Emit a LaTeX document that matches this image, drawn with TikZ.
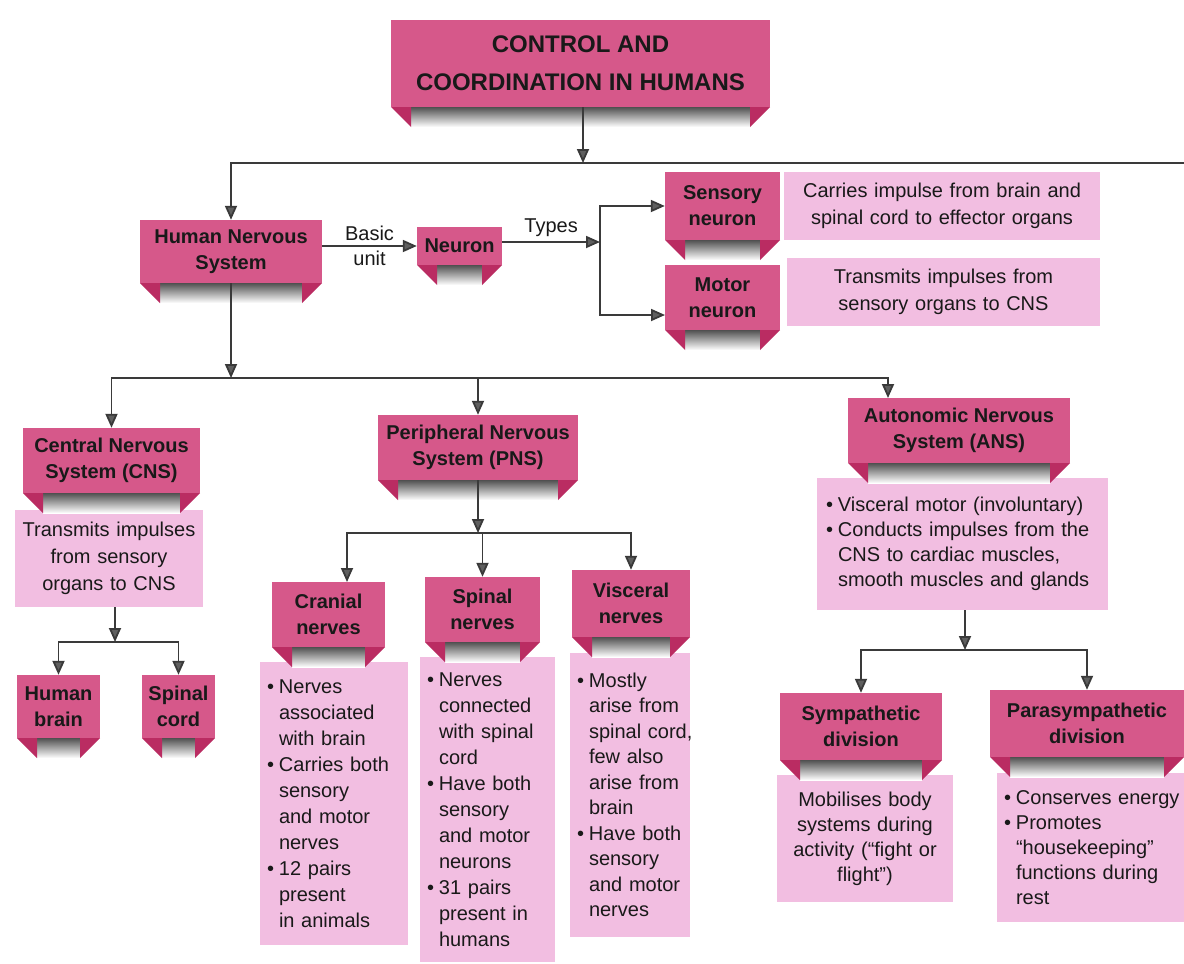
\documentclass[tikz,border=0pt]{standalone}
\usepackage{fontspec}
\setmainfont{Liberation Sans}
\usetikzlibrary{arrows.meta}
\definecolor{boxpink}{RGB}{214,88,138}
\definecolor{tabpink}{RGB}{186,44,98}
\definecolor{descpink}{RGB}{242,190,225}
\definecolor{stripdark}{RGB}{80,80,80}
\definecolor{linegray}{RGB}{58,58,58}
\definecolor{headgray}{RGB}{95,95,95}
\definecolor{ink}{RGB}{25,25,25}

\newcommand\bl{\makebox[12pt][l]{•}}
\newcommand\ind{\hspace*{12pt}}

% #1 options, #2 name, #3 x0, #4 y0, #5 x1, #6 y1, #7 text
\newcommand\ribbon[7][]{%
 \pgfmathsetmacro\rw{#5-#3}\pgfmathsetmacro\rh{#6-#4}%
 \node[rib, minimum width=\rw pt, minimum height=\rh pt, #1] (#2) at ({(#3+#5)/2},{(#4+#6)/2}) {#7};
 \shade[top color=stripdark, bottom color=white] ({#3+20},#6) rectangle ({#5-20},{#6+20});
 \fill[tabpink] (#3,#6) -- ({#3+20},#6) -- ({#3+20},{#6+20}) -- cycle;
 \fill[tabpink] (#5,#6) -- ({#5-20},#6) -- ({#5-20},{#6+20}) -- cycle;}

% #1 options, #2 name, #3 x0, #4 y0, #5 x1, #6 y1, #7 text
\newcommand\descbox[7][]{%
 \pgfmathsetmacro\rw{#5-#3}\pgfmathsetmacro\rh{#6-#4}\pgfmathsetmacro\tw{#5-#3-14}%
 \node[desc, minimum width=\rw pt, minimum height=\rh pt, text width=\tw pt, #1] (#2) at ({(#3+#5)/2},{(#4+#6)/2}) {#7};}

\begin{document}
\begin{tikzpicture}[x=1pt,y=-1pt,
  rib/.style={fill=boxpink, text=ink, font=\bfseries\fontsize{20}{26}\selectfont, align=center, inner sep=0pt},
  desc/.style={fill=descpink, text=ink, font=\fontsize{20}{26}\selectfont, inner xsep=7pt, inner ysep=0pt, align=left,
    execute at begin node={\hyphenpenalty=10000\exhyphenpenalty=10000\hbadness=10000\hfuzz=60pt\relax}},
  lbl/.style={text=ink, font=\fontsize{20}{24}\selectfont, inner sep=1pt},
  arr/.style={draw=linegray, line width=1.8pt, -{Triangle[length=14pt,width=12pt,fill=headgray]}}]
\fill[white] (0,0) rectangle (1184,964);
\useasboundingbox (0,0) rectangle (1184,964);

% ---------- description boxes
\descbox[align=center, font=\fontsize{20}{27}\selectfont]{sensdesc}{784}{172}{1100}{240}{Carries impulse from brain and\\spinal cord to effector organs}
\descbox[align=center, font=\fontsize{20}{27}\selectfont]{motordesc}{787}{258}{1100}{326}{Transmits impulses from\\sensory organs to CNS}
\descbox[align=center, font=\fontsize{20}{27}\selectfont]{cnsdesc}{15}{510}{203}{607}{Transmits impulses\\from sensory\\organs to CNS}
\descbox{cranialdesc}{260}{662}{408}{945}{\bl Nerves\\ \ind associated\\ \ind with~brain\\ \bl Carries~both\\ \ind sensory\\ \ind and~motor\\ \ind nerves\\ \bl 12~pairs\\ \ind present\\ \ind in~animals}
\descbox{spinaldesc}{420}{657}{555}{962}{\bl Nerves\\ \ind connected\\ \ind with~spinal\\ \ind cord\\ \bl Have~both\\ \ind sensory\\ \ind and~motor\\ \ind neurons\\ \bl 31~pairs\\ \ind present~in\\ \ind humans}
\descbox[font=\fontsize{20}{25.5}\selectfont]{visceraldesc}{570}{653}{690}{937}{\bl Mostly\\ \ind arise~from\\ \ind spinal~cord,\\ \ind few~also\\ \ind arise~from\\ \ind brain\\ \bl Have~both\\ \ind sensory\\ \ind and~motor\\ \ind nerves}
\descbox[font=\fontsize{20}{25}\selectfont]{ansdesc}{817}{478}{1108}{610}{\hspace*{2pt}\bl Visceral~motor~(involuntary)\\ \hspace*{2pt}\bl Conducts~impulses~from~the\\ \hspace*{2pt}\ind CNS~to~cardiac~muscles,\\ \hspace*{2pt}\ind smooth~muscles~and~glands}
\descbox[align=center, font=\fontsize{20}{25}\selectfont]{sympdesc}{777}{775}{953}{902}{Mobilises body\\systems during\\activity (“fight or\\flight”)}
\descbox[font=\fontsize{20}{25}\selectfont]{paradesc}{997}{773}{1184}{922}{\bl \mbox{Conserves~energy}\\ \bl Promotes\\ \ind “housekeeping”\\ \ind functions~during\\ \ind rest}

% ---------- ribbon boxes
\ribbon[font=\bfseries\fontsize{24}{38}\selectfont]{title}{391}{20}{770}{107}{CONTROL AND\\COORDINATION IN HUMANS}
\ribbon{hns}{140}{220}{322}{283}{Human Nervous\\System}
\ribbon{neuron}{417}{227}{502}{265}{Neuron}
\ribbon{sensory}{665}{172}{780}{240}{Sensory\\neuron}
\ribbon{motor}{665}{265}{780}{330}{Motor\\neuron}
\ribbon{cns}{23}{428}{200}{493}{Central Nervous\\System (CNS)}
\ribbon{pns}{378}{415}{578}{480}{Peripheral Nervous\\System (PNS)}
\ribbon{ans}{848}{398}{1070}{463}{Autonomic Nervous\\System (ANS)}
\ribbon{brain}{17}{675}{100}{738}{Human\\brain}
\ribbon{cord}{142}{675}{215}{738}{Spinal\\cord}
\ribbon{cranial}{272}{582}{385}{647}{Cranial\\nerves}
\ribbon{spinal}{425}{577}{540}{642}{Spinal\\nerves}
\ribbon{visceral}{572}{570}{690}{637}{Visceral\\nerves}
\ribbon{symp}{780}{693}{942}{760}{Sympathetic\\division}
\ribbon{para}{990}{690}{1184}{757}{Parasympathetic\\division}

% ---------- junction coordinates
\coordinate (tj) at (583,163);
\coordinate (tr) at (1184,163);
\coordinate (tyj) at (600,242);
\coordinate (motin) at (665,315);
\coordinate (hj) at (231,378);
\coordinate (ansin) at (888,398);
\coordinate (pj) at (480,533);
\coordinate (cranin) at (347,582);
\coordinate (cj) at (115,642);
\coordinate (aj) at (965,650);

% ---------- connectors
\draw[arr] (title.south -| tj) -- (tj);
\draw[arr] (tr) -- (hns.north |- tr) -- (hns.north);
\draw[arr] (hns.east |- neuron) -- (neuron.west)
   node[lbl, midway, above=3pt] {Basic} node[lbl, midway, below=3pt] {unit};
\draw[arr] (neuron.east |- tyj) -- (tyj) node[lbl, midway, above=3pt] {Types};
\draw[arr] (tyj) |- (sensory.west);
\draw[arr] (tyj) |- (motin);
\draw[arr] (hns.south) -- (hns.south |- hj);
\draw[arr] (hj) -| (cns.north);
\draw[arr] (hj) -| (pns.north);
\draw[arr] (hj) -| (ansin);
\draw[arr] (pns.south) -- (pns.south |- pj);
\draw[arr] (pj) -| (cranin);
\draw[arr] (pj) -| (spinal.north);
\draw[arr] (pj) -| (visceral.north);
\draw[arr] (cnsdesc.south -| cj) -- (cj);
\draw[arr] (cj) -| (brain.north);
\draw[arr] (cj) -| (cord.north);
\draw[arr] (ansdesc.south -| aj) -- (aj);
\draw[arr] (aj) -| (symp.north);
\draw[arr] (aj) -| (para.north);
\end{tikzpicture}
\end{document}
